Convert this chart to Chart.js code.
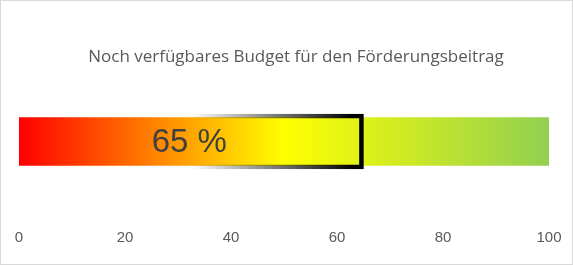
<!DOCTYPE html>
<html>
<head>
<meta charset="utf-8">
<script src="https://cdn.jsdelivr.net/npm/chart.js@4"></script>
<style>
  html, body { margin: 0; padding: 0; background: #fff; }
  #wrap { width: 573px; height: 265px; box-sizing: border-box; border: 1px solid #d9d9d9; }
  #wrap canvas { display: block; }
</style>
</head>
<body>
<div id="wrap"><canvas id="gauge" width="571" height="263"></canvas></div>
<script>
const titleText = 'Noch verfügbares Budget für den Förderungsbeitrag';
const categories = ['Budget'];
const fullScale = [100];
const usedPercent = [65];
const tickValues = [0, 20, 40, 60, 80, 100];

// gradient across the whole scale: red -> yellow -> green
function scaleGradient(ctx) {
  const chart = ctx.chart;
  const x = chart.scales.x;
  if (!chart.chartArea) return '#ffff00';
  const g = chart.ctx.createLinearGradient(x.getPixelForValue(0), 0, x.getPixelForValue(100), 0);
  g.addColorStop(0, '#ff0000');
  g.addColorStop(0.5, '#ffff00');
  g.addColorStop(1, '#92d050');
  return g;
}

// frame fades in from the middle of the bar to black at its end
function frameGradient(ctx) {
  const chart = ctx.chart;
  const x = chart.scales.x;
  if (!chart.chartArea) return '#000';
  const v = usedPercent[0];
  const g = chart.ctx.createLinearGradient(x.getPixelForValue(v / 2), 0, x.getPixelForValue(v * 0.97), 0);
  g.addColorStop(0, 'rgba(0,0,0,0)');
  g.addColorStop(1, 'rgba(0,0,0,1)');
  return g;
}

const centerLabel = {
  id: 'centerLabel',
  afterDatasetsDraw(chart) {
    const c = chart.ctx;
    const bar = chart.getDatasetMeta(0).data[0];
    const x = chart.scales.x;
    c.save();
    c.font = '33px "Liberation Sans", Arial, sans-serif';
    c.fillStyle = '#404040';
    c.textAlign = 'center';
    c.textBaseline = 'middle';
    c.fillText(usedPercent[0] + ' %', (x.getPixelForValue(0) + x.getPixelForValue(usedPercent[0])) / 2 - 2, bar.y + 1);
    c.restore();
  }
};

const topTitle = {
  id: 'topTitle',
  afterDraw(chart) {
    const c = chart.ctx;
    c.save();
    c.font = '17px "Open Sans", sans-serif';
    c.fillStyle = '#595959';
    c.textAlign = 'center';
    c.textBaseline = 'middle';
    c.fillText(titleText, 295, 56);
    c.restore();
  }
};

new Chart(document.getElementById('gauge'), {
  type: 'bar',
  data: {
    labels: categories,
    datasets: [
      { label: 'Verbraucht', data: usedPercent, backgroundColor: 'rgba(0,0,0,0)', borderColor: frameGradient,
        borderWidth: 4, borderSkipped: false, barThickness: 55, order: 0 },
      { label: 'Skala', data: fullScale, backgroundColor: scaleGradient, borderWidth: 0,
        barThickness: 48, order: 1 }
    ]
  },
  options: {
    indexAxis: 'y',
    responsive: false,
    animation: false,
    events: [],
    layout: { padding: { left: 18, right: 23, top: 63, bottom: 7 } },
    datasets: { bar: { grouped: false } },
    plugins: { legend: { display: false }, tooltip: { enabled: false }, title: { display: false } },
    scales: {
      x: {
        min: 0, max: 100,
        afterBuildTicks(s) { s.ticks = tickValues.map(v => ({ value: v })); },
        grid: { display: false, drawTicks: false },
        border: { display: false },
        ticks: { color: '#595959', padding: 10, font: { size: 15, family: '"Liberation Sans", Arial, sans-serif' } }
      },
      y: { display: false }
    }
  },
  plugins: [centerLabel, topTitle]
});
</script>
</body>
</html>
